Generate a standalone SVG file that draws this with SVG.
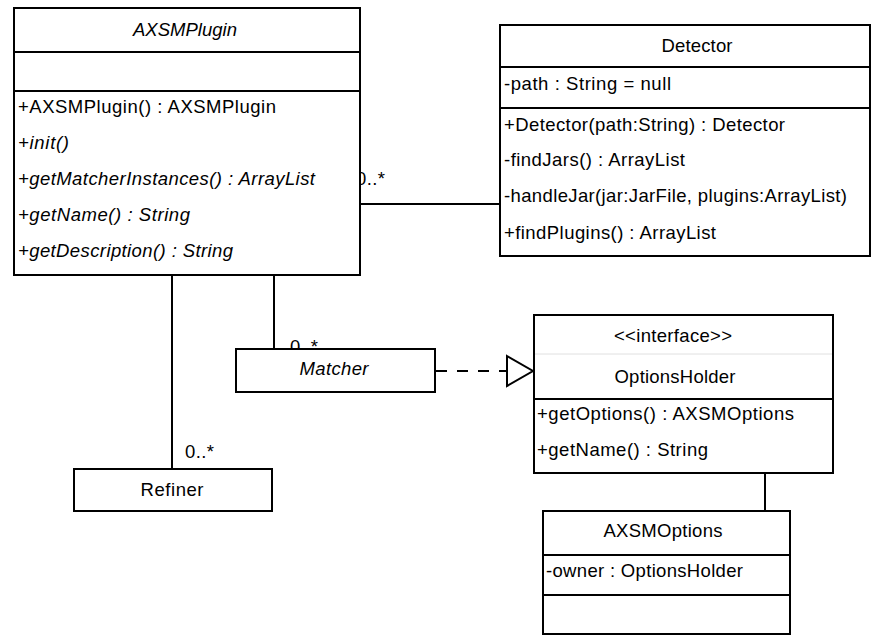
<svg xmlns="http://www.w3.org/2000/svg" width="892" height="635" viewBox="0 0 892 635">
  <defs>
    <style>
      .box { fill: #ffffff; stroke: #000000; stroke-width: 2; }
      .sep { stroke: #000000; stroke-width: 2; }
      .sep-light { stroke: #e0e0e0; stroke-width: 1; }
      .edge { fill: none; stroke: #000000; stroke-width: 2; }
      .dash { stroke-dasharray: 11 10; }
      .head { fill: #ffffff; stroke: #000000; stroke-width: 2; }
      text { font-family: "Liberation Sans", Arial, sans-serif; font-size: 18.5px; fill: #000000; }
      .c { text-anchor: middle; }
      .i { font-style: italic; }
    </style>
  </defs>

  <rect width="892" height="635" fill="#ffffff"/>

  <!-- associations and realization -->
  <g id="connectors">
    <line class="edge" x1="361" y1="204" x2="500" y2="204"/>
    <line class="edge" x1="274" y1="276" x2="274" y2="349"/>
    <line class="edge" x1="172" y1="276" x2="172" y2="469"/>
    <line class="edge" x1="765" y1="470" x2="765" y2="511"/>
    <line class="edge dash" x1="436" y1="371" x2="507" y2="371"/>
    <polygon class="head" points="507,356 533,371 507,386"/>
    <text x="356" y="185" textLength="29">0..*</text>
    <text x="290" y="353" textLength="28">0..*</text>
    <text x="185" y="458" textLength="29">0..*</text>
  </g>

  <g id="AXSMPlugin">
    <rect class="box" x="14" y="8" width="346" height="267"/>
    <line class="sep" x1="14" y1="52" x2="360" y2="52"/>
    <line class="sep" x1="14" y1="91" x2="360" y2="91"/>
    <text class="c i" x="185" y="36" textLength="104">AXSMPlugin</text>
    <text x="18" y="113" textLength="258">+AXSMPlugin() : AXSMPlugin</text>
    <text class="i" x="18" y="149" textLength="51">+init()</text>
    <text class="i" x="18" y="185" textLength="297">+getMatcherInstances() : ArrayList</text>
    <text class="i" x="18" y="221" textLength="172">+getName() : String</text>
    <text class="i" x="18" y="257" textLength="215">+getDescription() : String</text>
  </g>

  <g id="Detector">
    <rect class="box" x="500" y="25" width="370" height="231"/>
    <line class="sep" x1="500" y1="67" x2="870" y2="67"/>
    <line class="sep" x1="500" y1="108" x2="870" y2="108"/>
    <text class="c" x="697" y="52" textLength="71">Detector</text>
    <text x="504" y="90" textLength="167">-path : String = null</text>
    <text x="504" y="131" textLength="281">+Detector(path:String) : Detector</text>
    <text x="504" y="166" textLength="181">-findJars() : ArrayList</text>
    <text x="504" y="202" textLength="343">-handleJar(jar:JarFile, plugins:ArrayList)</text>
    <text x="504" y="239" textLength="212">+findPlugins() : ArrayList</text>
  </g>

  <g id="Matcher">
    <rect class="box" x="236" y="349" width="199" height="43"/>
    <text class="c i" x="334" y="375" textLength="69">Matcher</text>
  </g>

  <g id="Refiner">
    <rect class="box" x="74" y="469" width="198" height="42"/>
    <text class="c" x="172" y="496" textLength="63">Refiner</text>
  </g>

  <g id="OptionsHolder">
    <rect class="box" x="534" y="315" width="299" height="158"/>
    <line class="sep-light" x1="535" y1="354" x2="832" y2="354"/>
    <line class="sep" x1="534" y1="399" x2="833" y2="399"/>
    <text class="c" x="673" y="342" textLength="118">&lt;&lt;interface&gt;&gt;</text>
    <text class="c" x="675" y="383" textLength="121">OptionsHolder</text>
    <text x="537" y="420" textLength="257">+getOptions() : AXSMOptions</text>
    <text x="537" y="456" textLength="171">+getName() : String</text>
  </g>

  <g id="AXSMOptions">
    <rect class="box" x="543" y="511" width="247" height="123"/>
    <line class="sep" x1="543" y1="555" x2="790" y2="555"/>
    <line class="sep" x1="543" y1="595" x2="790" y2="595"/>
    <text class="c" x="663" y="537" textLength="119">AXSMOptions</text>
    <text x="546" y="577" textLength="197">-owner : OptionsHolder</text>
  </g>
</svg>
